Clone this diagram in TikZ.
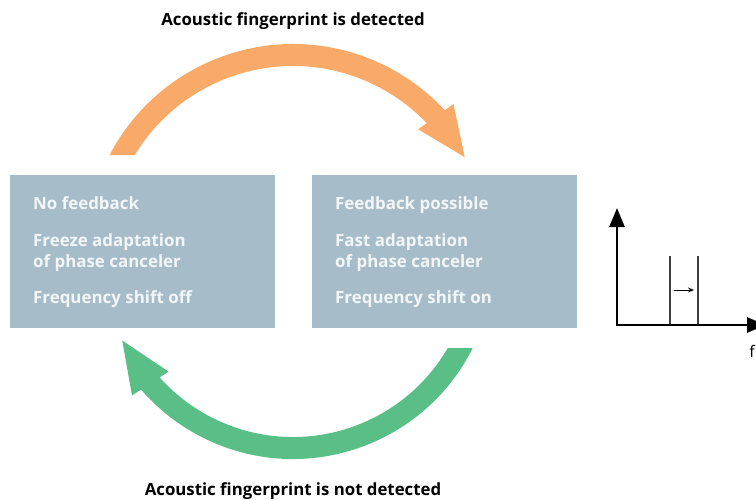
\documentclass[tikz,border=0pt]{standalone}
\usepackage{fontspec}
\setmainfont{Open Sans}
\usetikzlibrary{arrows.meta,bending,positioning}
\definecolor{boxblue}{RGB}{167,188,201}
\definecolor{boxtext}{RGB}{242,246,248}
\definecolor{arcorange}{RGB}{249,170,105}
\definecolor{arcgreen}{RGB}{90,191,135}

\begin{document}
\begin{tikzpicture}[x=1pt,y=-1pt,
                    block_state/.style ={rectangle, fill=boxblue, anchor=north west,
                        minimum width=265pt, minimum height=153pt, inner sep=0pt},
                    item_text/.style ={anchor=base west, inner sep=0pt, text=boxtext,
                        font=\fontsize{16.9}{19}\selectfont\bfseries},
                    caption/.style ={anchor=base, inner sep=0pt,
                        font=\fontsize{16.8}{19}\selectfont\bfseries},
                    turn/.style ={line width=22pt}]
    \tikzstyle{axis} = [line width=2.6pt,line join=miter,
                        {Triangle[length=19pt,width=15pt]}-{Triangle[length=19pt,width=15pt]}]
    \tikzstyle{peak} = [line width=1.4pt,draw=black!75]

    \useasboundingbox (0,0) rectangle (756,499);

    % the two states of the feedback canceler
    \node [block_state] (off) at (10,175) {};
    \node [block_state] (on) at (312,175) {};
    \foreach \y/\txt [count=\i] in {209/No feedback, 246/Freeze adaptation,
                                   267/of phase canceler, 303/Frequency shift off}
        \node [item_text] (off\i) at (33,\y) {\txt};
    \foreach \y/\txt [count=\i] in {209/Feedback possible, 246/Fast adaptation,
                                   267/of phase canceler, 303/Frequency shift on}
        \node [item_text] (on\i) at (335,\y) {\txt};

    % captions
    \node [caption] (detected) at (293,25) {Acoustic fingerprint is detected};
    \node [caption] (notdetected) at (293,495) {Acoustic fingerprint is not detected};

    % turning arrows between the states
    \coordinate (topcenter) at (293,251);
    \coordinate (bottomcenter) at (293,258);
    \begin{scope}
        \clip (0,0) -- (756,0) -- (756,499) -- (250,499) -- (250,155) -- (0,155) -- cycle;
        \draw [turn, arcorange, -{Triangle[length=52pt,width=39pt]}]
            ([shift={(-155:196)}]topcenter) arc [start angle=-155, end angle=-28, radius=196];
    \end{scope}
    \begin{scope}
        \clip (0,0) -- (250,0) -- (250,348) -- (756,348) -- (756,499) -- (0,499) -- cycle;
        \draw [turn, arcgreen, -{Triangle[length=54pt,width=39pt]}]
            ([shift={(25:190)}]bottomcenter) arc [start angle=25, end angle=155, radius=190];
    \end{scope}

    % spectrum with shifted line
    \coordinate (origin) at (617,325);
    \coordinate (yend) at (617,208);
    \coordinate (xend) at (766,325);
    \coordinate (peakA) at (670,256);
    \coordinate (peakB) at (698,256);
    \coordinate (shiftfrom) at (674,290);
    \coordinate (shiftto) at (694,290);
    \draw [peak] (peakA) -- (peakA |- origin);
    \draw [peak] (peakB) -- (peakB |- origin);
    \draw [axis] (yend) -- (origin) -- (xend);
    \draw [line width=1pt, -{Stealth[length=6pt,width=5pt]}] (shiftfrom) -- (shiftto);
    \node [anchor=base, inner sep=0pt, font=\fontsize{16}{19}\selectfont] (flabel) at (752,357) {f};
\end{tikzpicture}
\end{document}
